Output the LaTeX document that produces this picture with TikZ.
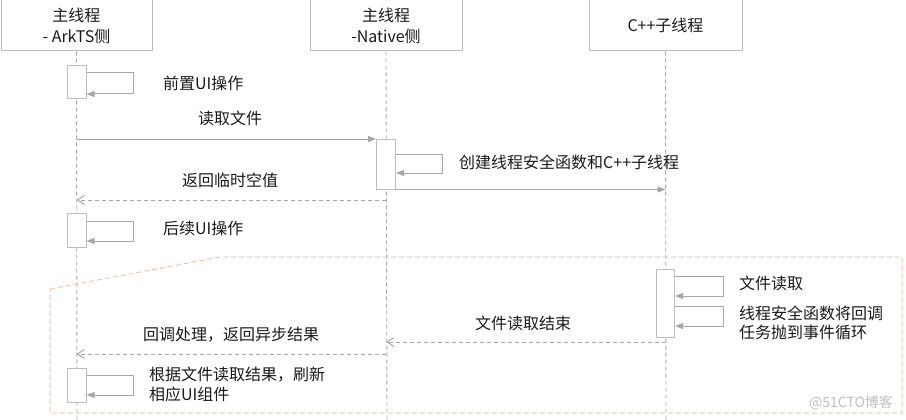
\documentclass[tikz,border=0pt]{standalone}
\usepackage{fontspec}
\setmainfont{Noto Sans CJK SC}
\usetikzlibrary{arrows.meta}
\definecolor{boxgray}{HTML}{BDBDBD}
\definecolor{linegray}{HTML}{A8A8A8}
\definecolor{regorange}{HTML}{F5C6A5}
\definecolor{txt}{HTML}{1A1A1A}
\begin{document}
\begin{tikzpicture}[x=1pt,y=-1pt,
  hdr/.style={draw=boxgray, line width=1pt, minimum height=51pt, inner sep=0pt, align=center, text=txt, font=\fontsize{16}{21}\selectfont},
  act/.style={draw=boxgray, line width=1pt, fill=white, minimum width=19pt, inner sep=0pt},
  life/.style={draw=linegray, line width=0.9pt, dash pattern=on 4pt off 3pt},
  call/.style={draw=linegray, line width=1pt, -{Triangle[length=8pt,width=6pt]}},
  ret/.style={draw=linegray, line width=1pt, dash pattern=on 4pt off 3pt, -{Straight Barb[length=7pt,width=9pt]}},
  self/.style={draw=linegray, line width=1pt, -{Triangle[length=8pt,width=6pt]}},
  lbl/.style={inner sep=0pt, text=txt, font=\fontsize{16}{20}\selectfont},
  region/.style={draw=regorange, line width=1pt, dash pattern=on 5pt off 3pt}
]
\useasboundingbox (0,0) rectangle (906,420);
\fill[white] (0,0) rectangle (906,420);

% headers
\node[hdr, minimum width=151pt] (h1) at (76.5,25.5) {主线程\\- ArkTS侧};
\node[hdr, minimum width=152pt] (h2) at (386,25.5) {主线程\\-Native侧};
\node[hdr, minimum width=153pt] (h3) at (665.5,25.5) {C++子线程};

% lifeline ends
\coordinate (e1) at (77,420);
\coordinate (e2) at (387,420);
\coordinate (e3) at (666,420);
\draw[life] (h1.south) -- (e1);
\draw[life] (h2.south) -- (e2);
\draw[life] (h3.south) -- (e3);

% region
\draw[region] (50,289) -- (220,257) -- (902,257) -- (902,413) -- (50,413) -- cycle;

% activations
\node[act, minimum height=33pt] (a1) at (76.5,82.5) {};
\node[act, minimum height=50pt] (a2) at (386,164) {};
\node[act, minimum height=34pt] (a3) at (76.5,230) {};
\node[act, minimum height=68pt, minimum width=18pt] (a4) at (665.5,303) {};
\node[act, minimum height=34pt] (a5) at (76.5,385) {};

% self calls
\draw[self] (a1.east |- 0,73) -- (133,73) -- (133,94) -- (a1.east |- 0,94);
\draw[self] (a2.east |- 0,154) -- (442,154) -- (442,173) -- (a2.east |- 0,173);
\draw[self] (a3.east |- 0,221) -- (133,221) -- (133,241) -- (a3.east |- 0,241);
\draw[self] (a4.east |- 0,276) -- (723,276) -- (723,296) -- (a4.east |- 0,296);
\draw[self] (a4.east |- 0,306) -- (723,306) -- (723,326) -- (a4.east |- 0,326);
\draw[self] (a5.east |- 0,375) -- (133,375) -- (133,395) -- (a5.east |- 0,395);

% messages
\draw[call] (h1.south |- 0,139) -- (a2.west |- 0,139);
\draw[call] (a2.south east) -- (h3.south |- a2.south);
\draw[ret] (a2.south |- 0,200) -- (h1.south |- 0,200);
\draw[ret] (a4.south |- 0,342) -- (h2.south |- 0,342);
\draw[ret] (h2.south |- 0,354) -- (h1.south |- 0,354);

% labels
\node[lbl, anchor=west] (t1) at (163,83) {前置UI操作};
\node[lbl] (t2) at (230,118) {读取文件};
\node[lbl, anchor=west] (t3) at (459,162) {创建线程安全函数和C++子线程};
\node[lbl] (t4) at (230,180) {返回临时空值};
\node[lbl, anchor=west] (t5) at (163,228) {后续UI操作};
\node[lbl, anchor=west] (t6) at (739,283) {文件读取};
\node[lbl, anchor=west, align=left, font=\fontsize{16}{19}\selectfont] (t7) at (739,323) {线程安全函数将回调\\任务抛到事件循环};
\node[lbl] (t8) at (523,323) {文件读取结束};
\node[lbl] (t9) at (231,335) {回调处理，返回异步结果};
\node[lbl, anchor=west, align=left, font=\fontsize{16}{20}\selectfont] (t10) at (149,384) {根据文件读取结果，刷新\\相应UI组件};
\node[lbl, text=black!25, font=\fontsize{14}{16}\selectfont] (wm) at (851,403) {@51CTO博客};
\end{tikzpicture}
\end{document}
